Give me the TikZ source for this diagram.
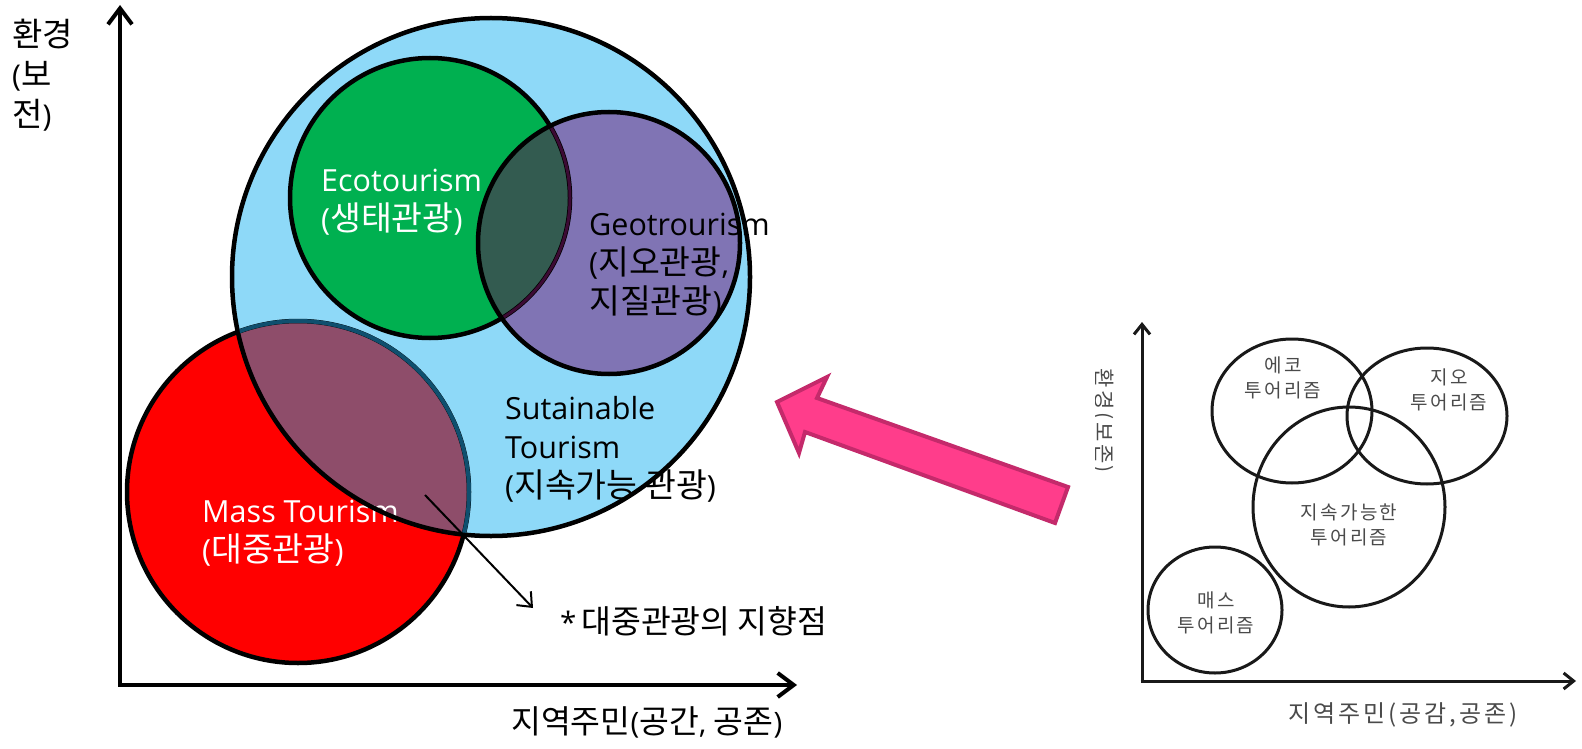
\documentclass[tikz,border=0pt]{standalone}
\usepackage{fontspec}
\setmainfont{Open Sans}
\newfontfamily\kr{Noto Sans CJK KR}[Scale=1.1]
\newfontfamily\krs{Noto Sans CJK KR}[LetterSpace=12]
\usetikzlibrary{arrows.meta}
\definecolor{skyb}{HTML}{8ED9F8}
\definecolor{ecog}{HTML}{00B050}
\definecolor{geop}{HTML}{8074B4}
\definecolor{egov}{HTML}{335B50}
\definecolor{massov}{HTML}{8E4D6A}
\definecolor{tealline}{HTML}{0F4F6E}
\definecolor{purpline}{HTML}{3C0A34}
\definecolor{pinkf}{HTML}{FF3D8B}
\definecolor{pinkd}{HTML}{C42A6B}
\definecolor{grayt}{HTML}{4A4A4A}
\tikzset{
  bigline/.style={line width=4.5pt, draw=black},
  lbl/.style={inner sep=0pt, anchor=north west, align=left, font=\fontsize{30.5}{39}\selectfont},
  smallc/.style={line width=3pt, draw=black!90},
  smalllbl/.style={inner sep=0pt, align=center, text=grayt, font=\krs\fontsize{19}{25}\selectfont},
  axisbig/.style={line width=4pt, -{Straight Barb[length=16pt,width=24pt,line width=4pt]}},
  axissmall/.style={line width=3pt, black!90, -{Straight Barb[length=10pt,width=16pt,line width=3pt]}},
}
\begin{document}
\begin{tikzpicture}[x=1pt,y=-1pt]
\path[use as bounding box] (0,0) rectangle (1582,749);
% centres
\coordinate (cb) at (491,277);
\coordinate (cg) at (430,198);
\coordinate (cp) at (609,243);
\coordinate (cr) at (298,492);
% fills
\fill[skyb] (cb) circle[radius=259pt];
\fill[ecog] (cg) circle[radius=140pt];
\fill[geop] (cp) circle[radius=131pt];
\begin{scope}
  \clip (cg) circle[radius=140pt];
  \fill[egov] (cp) circle[radius=131pt];
\end{scope}
\fill[red] (cr) circle[radius=171pt];
\begin{scope}
  \clip (cb) circle[radius=259pt];
  \fill[massov] (cr) circle[radius=171pt];
\end{scope}
% texts
\node[lbl, text=white] (eco) at (321,169) {Ecotourism\\({\kr 생태관광})};
\node[lbl] (geo) at (589,213) {Geotrourism\\({\kr 지오관광},\\{\kr 지질관광})};
\node[lbl] (sus) at (505,396) {Sutainable\\Tourism\\({\kr 지속가능 관광})};
\node[lbl, text=white] (mass) at (202,500) {Mass Tourism\\({\kr 대중관광})};
% outlines
\draw[bigline] (cb) circle[radius=259pt];
\draw[bigline] (cg) circle[radius=140pt];
\begin{scope}
  \clip (cp) circle[radius=131pt];
  \draw[line width=3pt, purpline] (cg) circle[radius=140pt];
\end{scope}
\draw[bigline] (cp) circle[radius=131pt];
\draw[bigline] (cr) circle[radius=171pt];
\begin{scope}
  \clip (cb) circle[radius=257pt];
  \draw[line width=4pt, tealline] (cr) circle[radius=171pt];
\end{scope}
% axes
\coordinate (org) at (120,685);
\coordinate (ytop) at (120,5);
\coordinate (xend) at (797,685);
\draw[axisbig] (org) -- (ytop);
\draw[axisbig] ([xshift=-2pt]org) -- (xend);
\node[lbl, font=\fontsize{30}{40}\selectfont] (ylab) at (12,19) {{\kr 환경}\\({\kr 보}\\{\kr 전})};
\node[lbl, font=\fontsize{29.5}{36}\selectfont] (xlab) at (511,706) {{\kr 지역주민}({\kr 공간}, {\kr 공존})};
% pointer arrow
\coordinate (pa) at (425,495);
\coordinate (pb) at (533,608);
\draw[line width=2pt, -{Straight Barb[length=12pt,width=20pt,line width=2pt]}] (pa) -- (pb);
\node[lbl, font=\fontsize{29.5}{36}\selectfont] (goal) at (560,606) {*\,{\kr 대중관광의 지향점}};
% pink block arrow
\draw[line width=4pt, draw=pinkd, fill=pinkf, line join=miter]
  (777,402) -- (827,377) -- (817,398) -- (1068,487) -- (1055,523) -- (805,432) -- (799,453) -- cycle;
% small diagram
\coordinate (sorg) at (1142,681);
\coordinate (stop) at (1142,322);
\coordinate (send) at (1576,681);
\draw[axissmall] (sorg) -- (stop);
\draw[axissmall] ([xshift=-1.5pt]sorg) -- (send);
\draw[smallc] (1292,411) ellipse[x radius=80pt, y radius=72pt];
\draw[smallc] (1427,416) ellipse[x radius=80pt, y radius=68pt];
\draw[smallc] (1349,507) ellipse[x radius=96pt, y radius=100pt];
\draw[smallc] (1215,610) ellipse[x radius=67pt, y radius=63pt];
\node[smalllbl] (seco) at (1283,378) {에코\\투어리즘};
\node[smalllbl] (sgeo) at (1449,390) {지오\\투어리즘};
\node[smalllbl] (ssus) at (1349,525) {지속가능한\\투어리즘};
\node[smalllbl] (smass) at (1216,613) {매스\\투어리즘};
\node[smalllbl, font=\krs\fontsize{24}{30}\selectfont] (sxlab) at (1403,715) {지역주민(공감,공존)};
\begin{scope}
  \clip (1095,300) rectangle (1130,560);
  \node[smalllbl, rotate=-90, font=\krs\fontsize{21}{28}\selectfont] (sylab) at (1103,421) {환경(보존)};
\end{scope}
\end{tikzpicture}
\end{document}
